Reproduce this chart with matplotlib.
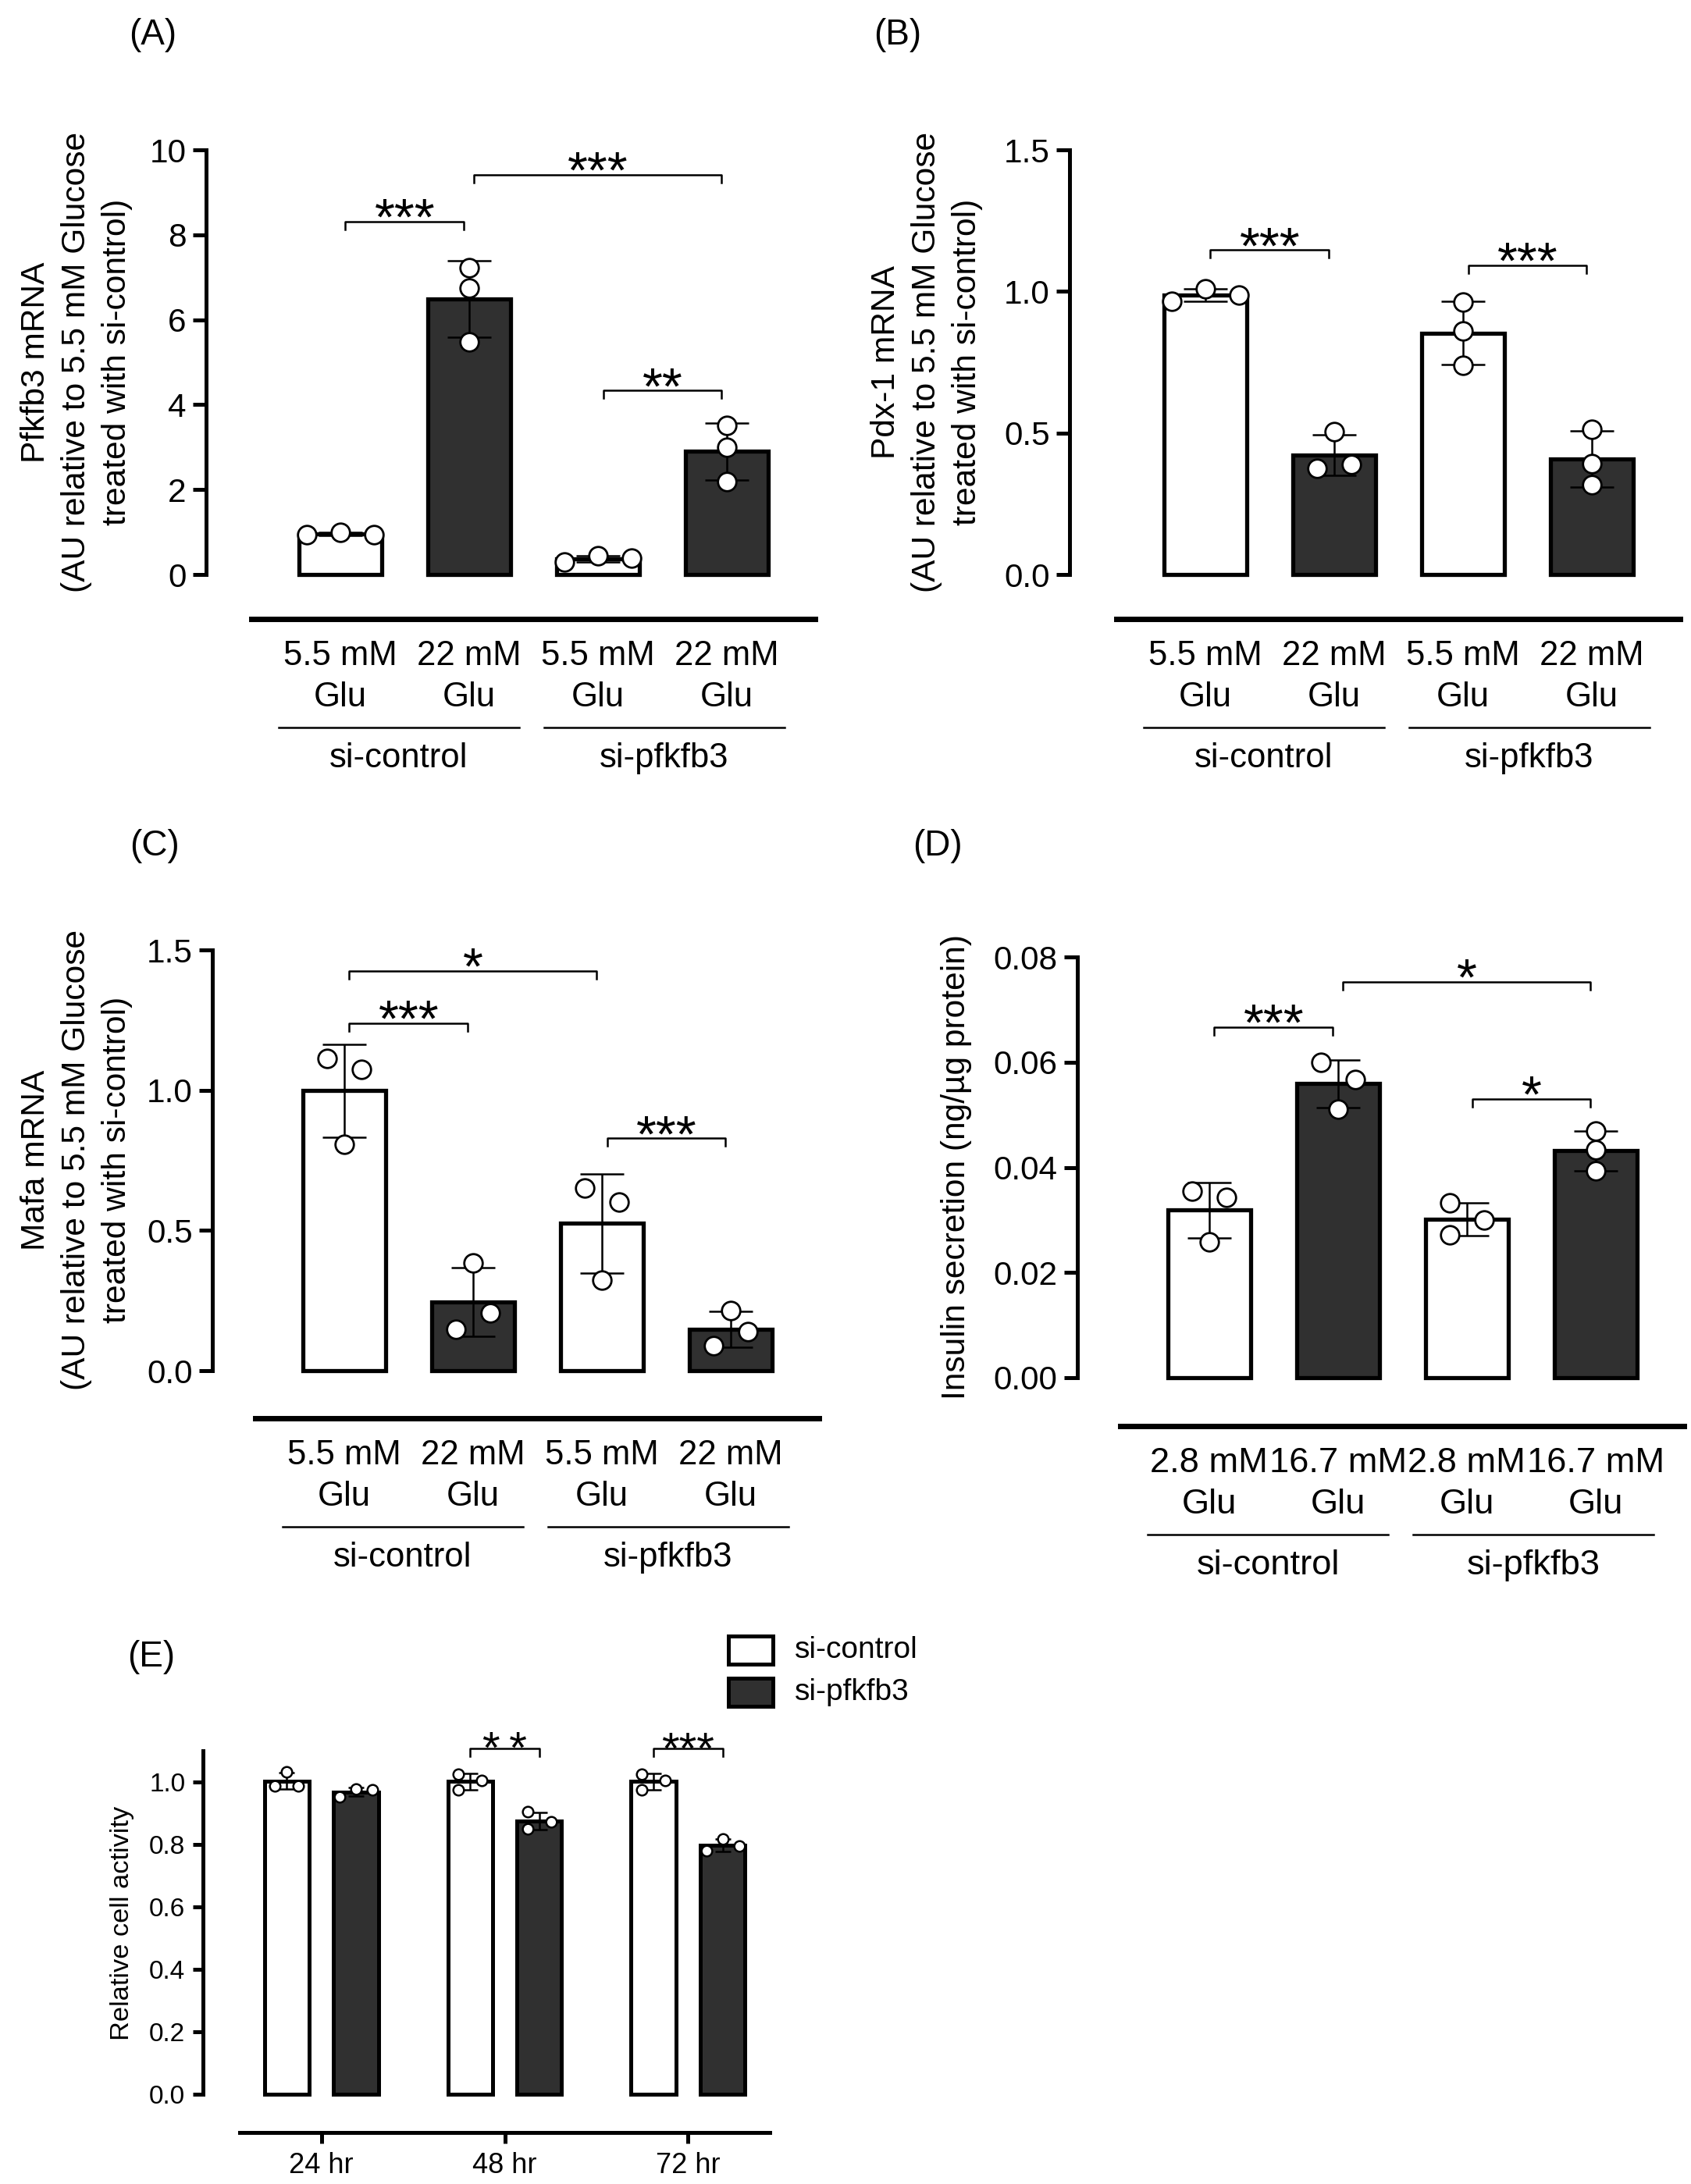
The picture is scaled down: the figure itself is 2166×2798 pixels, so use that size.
import numpy as np
import matplotlib
matplotlib.use('Agg')
import matplotlib.pyplot as plt
from matplotlib import transforms
from matplotlib.patches import Rectangle

plt.rcParams['font.family'] = ['Liberation Sans', 'DejaVu Sans']

# ------------------------- data -------------------------
glu_labels_A = ['5.5 mM', '22 mM', '5.5 mM', '22 mM']
glu_labels_D = ['2.8 mM', '16.7 mM', '2.8 mM', '16.7 mM']
glu_second = ['Glu', 'Glu', 'Glu', 'Glu']
group_labels = ['si-control', 'si-pfkfb3']

pfkfb3_pts = [[0.93, 1.00, 0.93], [7.23, 6.75, 5.48], [0.30, 0.44, 0.38], [3.51, 3.00, 2.18]]
pdx1_pts = [[0.965, 1.010, 0.986], [0.505, 0.375, 0.388], [0.963, 0.859, 0.738], [0.514, 0.391, 0.317]]
mafa_pts = [[1.113, 1.074, 0.807], [0.383, 0.148, 0.205], [0.650, 0.600, 0.324], [0.214, 0.089, 0.139]]
insulin_pts = [[0.0355, 0.0343, 0.0258], [0.0600, 0.0567, 0.0510],
               [0.0333, 0.0300, 0.0271], [0.0469, 0.0433, 0.0393]]

sig_A = [(0, 1, 8.31, '***'), (1, 3, 9.41, '***'), (2, 3, 4.33, '**')]
sig_B = [(0, 1, 1.146, '***'), (2, 3, 1.093, '***')]
sig_C = [(0, 2, 1.425, '*'), (0, 1, 1.238, '***'), (2, 3, 0.828, '***')]
sig_D = [(0, 1, 0.0666, '***'), (1, 3, 0.0752, '*'), (2, 3, 0.0530, '*')]

time_labels = ['24 hr', '48 hr', '72 hr']
ctrl_pts = [[1.033, 0.988, 0.988], [1.026, 1.006, 0.974], [1.026, 1.006, 0.974]]
pf_pts = [[0.952, 0.978, 0.974], [0.905, 0.873, 0.850], [0.779, 0.818, 0.796]]
sig_E = [(1, 1.107, '*\u2009*'), (2, 1.107, '***')]
legend_labels = ['si-control', 'si-pfkfb3']

# ------------------------- styling -------------------------
W, H, DPI = 2166, 2798, 200
PT = 72.0 / DPI
DARK = '#303030'
fig = plt.figure(figsize=(W / DPI, H / DPI), dpi=DPI)
flip = transforms.Affine2D().scale(1, -1).translate(0, H)


def swarm(vals, px_per_unit, thresh, h, t):
    vals = np.asarray(vals, float)
    n = len(vals)
    ypx = vals * px_per_unit
    order = list(np.argsort(-ypx))
    clusters, cur = [], [order[0]]
    for i in order[1:]:
        if abs(ypx[cur[-1]] - ypx[i]) < thresh:
            cur.append(i)
        else:
            clusters.append(cur)
            cur = [i]
    clusters.append(cur)
    off = np.zeros(n)
    for c in clusters:
        if len(c) == 2:
            a, b = sorted(c)
            off[a], off[b] = -h, h
        elif len(c) == 3:
            if abs(ypx[c[0]] - ypx[c[-1]]) < thresh:
                for k, idx in enumerate(sorted(c)):
                    off[idx] = (k - 1) * t
            else:
                off[c[0]], off[c[1]], off[c[2]] = -h, h, -h
    return off


def add_axes_px(left, right, top, bottom):
    return fig.add_axes([left / W, 1 - bottom / H, (right - left) / W, (bottom - top) / H])


def bracket(ax, x0, x1, y, label, px_y, drop_px, fs, dy_pt, shrink=0.0):
    d = drop_px / px_y
    x0, x1 = x0 + shrink, x1 - shrink
    ax.plot([x0, x0, x1, x1], [y - d, y, y, y - d], color='black', lw=0.9,
            clip_on=False, zorder=5)
    ax.annotate(label, xy=((x0 + x1) / 2, y), xytext=(0, dy_pt), textcoords='offset points',
                ha='center', va='baseline', fontsize=fs, annotation_clip=False)


def panel4(box, spine_left, spine_bottom, pts, ylim, yticks, yfmt, toplabels, sigs, xfs):
    left, right, top, bottom = box
    ax = add_axes_px(left, right, top, bottom)
    xlim = (-0.69, 3.685)
    ax.set_xlim(xlim)
    ax.set_ylim(ylim)
    px_y = (bottom - top) / (ylim[1] - ylim[0])
    px_x = (right - left) / (xlim[1] - xlim[0])
    x = np.arange(4)
    means = [np.mean(p) for p in pts]
    sds = [np.std(p, ddof=1) for p in pts]
    colors = ['white', DARK, 'white', DARK]
    ax.bar(x, means, width=0.64, color=colors, edgecolor='black', linewidth=1.9,
           zorder=2, clip_on=False)
    ax.errorbar(x, means, yerr=sds, fmt='none', ecolor='black', elinewidth=0.9,
                capsize=10, capthick=0.9, zorder=3)
    for i, p in enumerate(pts):
        off = swarm(p, px_y, 23, 22, 43) / px_x
        ax.scatter(i + off, p, s=72, facecolor='white', edgecolor='black',
                   linewidth=1.0, zorder=4, clip_on=False)
    for (a, b, y, lab) in sigs:
        bracket(ax, a, b, y, lab, px_y, 10, 24, -6.0, shrink=0.04)
    for s in ['top', 'right']:
        ax.spines[s].set_visible(False)
    ax.spines['left'].set_position(('outward', (left - spine_left) * PT))
    ax.spines['left'].set_linewidth(1.8)
    ax.spines['bottom'].set_position(('outward', (spine_bottom - bottom) * PT))
    ax.spines['bottom'].set_linewidth(2.5)
    ax.set_yticks(yticks)
    ax.set_yticklabels([yfmt.format(v) for v in yticks])
    ax.tick_params(axis='y', length=17 * PT, width=1.8, labelsize=15.2, pad=3)
    ax.tick_params(axis='x', length=0, labelbottom=False)
    ax.set_xticks([])
    blend = transforms.blended_transform_factory(ax.transData, flip)
    for i in range(4):
        ax.text(i, spine_bottom + 59, toplabels[i], transform=blend, ha='center',
                va='baseline', fontsize=xfs, clip_on=False)
        ax.text(i, spine_bottom + 112, glu_second[i], transform=blend, ha='center',
                va='baseline', fontsize=xfs, clip_on=False)
    for (x0, x1), lab in zip([(-0.48, 1.39), (1.58, 3.45)], group_labels):
        ax.plot([x0, x1], [spine_bottom + 139] * 2, transform=blend, color='black',
                lw=0.9, clip_on=False)
        ax.text((x0 + x1) / 2, spine_bottom + 190, lab, transform=blend, ha='center',
                va='baseline', fontsize=xfs, clip_on=False)
    return ax


def ftext(x, y, s, **kw):
    fig.text(x / W, 1 - y / H, s, **kw)


YL = dict(rotation=90, ha='center', va='center', ma='center', fontsize=15.3, linespacing=1.4)

# (A)
panel4((322, 1044, 192, 736), 264, 793, pfkfb3_pts, (0, 10), [0, 2, 4, 6, 8, 10], '{:.0f}',
       glu_labels_A, sig_A, 15.7)
ftext(98, 464, 'Pfkfb3 mRNA\n(AU relative to 5.5 mM Glucose\ntreated with si-control)', **YL)
ftext(196, 45, '(A)', ha='center', va='center', fontsize=16.5)

# (B)
panel4((1430, 2152, 192, 736), 1370, 793, pdx1_pts, (0, 1.5), [0, 0.5, 1.0, 1.5], '{:.1f}',
       glu_labels_A, sig_B, 15.7)
ftext(1187, 464, 'Pdx-1 mRNA\n(AU relative to 5.5 mM Glucose\ntreated with si-control)', **YL)
ftext(1150, 45, '(B)', ha='center', va='center', fontsize=16.5)

# (C)
panel4((327, 1049, 1217, 1756), 272, 1817, mafa_pts, (0, 1.5), [0, 0.5, 1.0, 1.5], '{:.1f}',
       glu_labels_A, sig_C, 15.7)
ftext(98, 1486, 'Mafa mRNA\n(AU relative to 5.5 mM Glucose\ntreated with si-control)', **YL)
ftext(198, 1084, '(C)', ha='center', va='center', fontsize=16.5)

# (D)
panel4((1435, 2157, 1226, 1765), 1380, 1827, insulin_pts, (0, 0.08),
       [0, 0.02, 0.04, 0.06, 0.08], '{:.2f}', glu_labels_D, sig_D, 16.3)
ftext(1225, 1495, 'Insulin secretion (ng/\u00b5g protein)', rotation=90, ha='center',
      va='center', fontsize=15.3)
ftext(1201, 1084, '(D)', ha='center', va='center', fontsize=16.5)

# (E)
left, right, top, bottom = 307, 986, 2243, 2683
axE = add_axes_px(left, right, top, bottom)
xlimE = (-0.445, 2.445)
ylimE = (0, 1.1)
axE.set_xlim(xlimE)
axE.set_ylim(ylimE)
pxy = (bottom - top) / (ylimE[1] - ylimE[0])
pxx = (right - left) / (xlimE[1] - xlimE[0])
g = np.arange(3)
for pts, shift, col in [(ctrl_pts, -0.188, 'white'), (pf_pts, 0.188, DARK)]:
    means = [np.mean(p) for p in pts]
    sds = [np.std(p, ddof=1) for p in pts]
    axE.bar(g + shift, means, width=0.245, color=col, edgecolor='black', linewidth=1.8,
            zorder=2, clip_on=False)
    axE.errorbar(g + shift, means, yerr=sds, fmt='none', ecolor='black', elinewidth=0.9,
                 capsize=3.6, capthick=0.9, zorder=3)
    for i, p in enumerate(pts):
        off = swarm(p, pxy, 16, 15, 21) / pxx
        axE.scatter(i + shift + off, p, s=24, facecolor='white', edgecolor='black',
                    linewidth=0.9, zorder=4, clip_on=False)
for (gi, y, lab) in sig_E:
    bracket(axE, gi - 0.188, gi + 0.188, y, lab, pxy, 10, 21, -6.9)
for s in ['top', 'right']:
    axE.spines[s].set_visible(False)
axE.spines['left'].set_position(('outward', (left - 260) * PT))
axE.spines['left'].set_linewidth(1.8)
axE.spines['bottom'].set_position(('outward', (2732 - bottom) * PT))
axE.spines['bottom'].set_linewidth(1.8)
axE.set_yticks([0, 0.2, 0.4, 0.6, 0.8, 1.0])
axE.set_yticklabels(['{:.1f}'.format(v) for v in [0, 0.2, 0.4, 0.6, 0.8, 1.0]])
axE.set_xticks(g)
axE.set_xticklabels(time_labels)
axE.tick_params(axis='y', length=13 * PT, width=1.8, labelsize=12, pad=3.5)
axE.tick_params(axis='x', length=14 * PT, width=1.8, labelsize=13, pad=4)
ftext(156, 2464, 'Relative cell activity', rotation=90, ha='center', va='center',
      fontsize=12.4)
ftext(194, 2123, '(E)', ha='center', va='center', fontsize=16.5)

# legend
for (y0, y1), col, lab in zip([(2096, 2132), (2150, 2186)], ['white', DARK], legend_labels):
    fig.patches.append(Rectangle((933 / W, 1 - y1 / H), 57 / W, (y1 - y0) / H,
                                 transform=fig.transFigure, facecolor=col,
                                 edgecolor='black', linewidth=1.8))
    ftext(1018, (y0 + y1) / 2, lab, ha='left', va='center', fontsize=14)

fig.savefig('out.png', dpi=DPI)
